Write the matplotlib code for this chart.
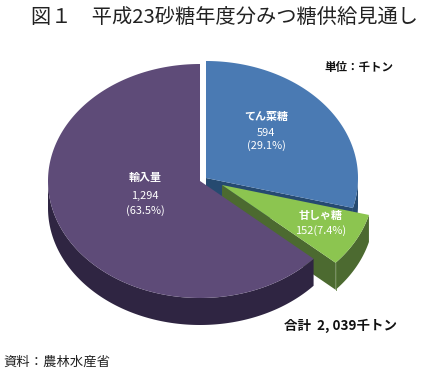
import numpy as np
import matplotlib.pyplot as plt

plt.rcParams['font.family'] = ['Noto Sans CJK JP', 'DejaVu Sans']

# Data
categories = ["てん菜糖", "甘しゃ糖", "輸入量"]
values = [594, 152, 1294]
value_labels = ["594\n(29.1%)", "152(7.4%)", "1,294\n(63.5%)"]

top_colors = ['#4a7ab3', '#8cc550', '#5e4b78']
side_colors = ['#264a70', '#4c6a30', '#2f2542']
# exploded slice centres in pixels
centers = [(206, 178), (222, 185), (200, 181)]

rx, ry, depth = 152, 117, 27

fig = plt.figure(figsize=(4.22, 3.75), dpi=100)
ax = fig.add_axes([0, 0, 1, 1])
ax.set_xlim(0, 422)
ax.set_ylim(375, 0)
ax.axis('off')


def rim(c, a0, a1):
    # angle is clockwise from 12 o'clock, in radians
    t = np.linspace(a0, a1, 200)
    return c[0] + rx * np.sin(t), c[1] - ry * np.cos(t)


shares = np.array(values) / sum(values)
edges = np.concatenate([[0], np.cumsum(shares)]) * 2 * np.pi

for i in range(len(values)):
    a0, a1 = edges[i], edges[i + 1]
    c = centers[i]
    x, y = rim(c, a0, a1)

    # outer wall, only the part facing the viewer
    w0, w1 = max(a0, np.pi / 2), min(a1, 3 * np.pi / 2)
    if w1 > w0:
        wx, wy = rim(c, w0, w1)
        ax.fill(np.r_[wx, wx[::-1]], np.r_[wy, wy[::-1] + depth],
                color=side_colors[i], lw=0)
    # cut face at the end of the slice
    if a1 < 3 * np.pi / 2:
        ax.fill([c[0], x[-1], x[-1], c[0]],
                [c[1], y[-1], y[-1] + depth, c[1] + depth],
                color=side_colors[i], lw=0)
    # top
    ax.fill(np.r_[c[0], x], np.r_[c[1], y], color=top_colors[i], lw=0)

# thin seam on the green wall
gx, gy = rim(centers[1], edges[2], edges[2])
ax.plot([gx[0], gx[0]], [gy[0], gy[0] + depth], color='#5f7f40', lw=0.6)

name_pos = [(266, 117), (321, 216), (145, 178)]
for i in range(len(values)):
    ax.text(*name_pos[i], categories[i], color='white', fontsize=7.9,
            fontweight='bold', ha='center', va='center')

ax.text(266, 139.5, value_labels[0], color='white', fontsize=7.9, ha='center',
        va='center', linespacing=1.3)
ax.text(321, 231, value_labels[1], color='white', fontsize=7.9, ha='center', va='center')
ax.text(145, 203.5, value_labels[2], color='white', fontsize=7.9, ha='center',
        va='center', linespacing=1.5)

ax.text(31, 17, "図１　平成23砂糖年度分みつ糖供給見通し", fontsize=14.55, color='#222222',
        ha='left', va='center')
ax.text(359, 67, "単位：千トン", fontsize=8.3, fontweight='bold', color='#111111',
        ha='center', va='center')
ax.text(340, 326, "合計  2, 039千トン", fontsize=9.7, fontweight='bold', color='#111111',
        ha='center', va='center')
ax.text(3, 362, "資料：農林水産省", fontsize=9.6, color='#222222', ha='left', va='center')

fig.savefig('out.png', dpi=100)
